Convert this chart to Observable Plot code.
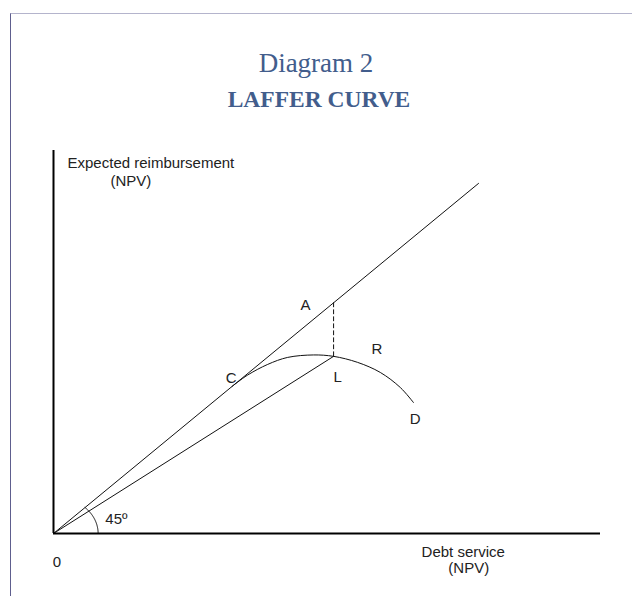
<!DOCTYPE html>
<html>
<head>
<meta charset="utf-8">
<script src="https://cdn.jsdelivr.net/npm/d3@7"></script>
<script src="https://cdn.jsdelivr.net/npm/@observablehq/plot@0.6"></script>
<style>
  html, body { margin: 0; padding: 0; background: #fff; }
  #page { position: relative; width: 632px; height: 596px; overflow: hidden; background: #fff; }
  #frame { position: absolute; left: 10px; top: 13px; width: 640px; height: 600px;
           border-top: 1.5px solid #b4b4cc; border-left: 1px solid #5e5e8e; }
  #chart { position: absolute; left: 0; top: 0; }
  .title { position: absolute; left: 0; width: 632px; text-align: center; color: #425d8c;
           font-family: "Liberation Serif", "DejaVu Serif", serif; line-height: 1; white-space: nowrap; }
  #t1 { top: 50px; font-size: 27px; }
  #t2 { top: 88px; font-size: 23.5px; font-weight: bold; left: 3px; }
</style>
</head>
<body>
<div id="page">
  <div id="frame"></div>
  <div id="chart"></div>
  <div class="title" id="t1">Diagram 2</div>
  <div class="title" id="t2">LAFFER CURVE</div>
</div>
<script>
// Axis extents (data units)
const xMax = 12.87;
const yMax = 10.94;

// 45-degree line
const line45 = [{x: 0, y: 0}, {x: 10, y: 10}];

// Point A (on 45° line) and L (on Laffer curve) share the same debt service
const pointA = {x: 6.59, y: 6.59};
const pointL = {x: 6.59, y: 5.06};

// Ray from origin to L
const rayOL = [{x: 0, y: 0}, pointL];

// Laffer curve C -> L -> D
const curveX = [4.20, 4.56, 5.04, 5.51, 6.12, 6.59, 7.15, 7.69, 8.16, 8.47];
const curveY = [4.20, 4.52, 4.83, 5.03, 5.10, 5.06, 4.89, 4.60, 4.17, 3.74];

// 45° angle arc
const arcRadius = 1.05;
const arcDegrees = 45;

// Text labels
const labelText = ["Expected reimbursement", "(NPV)", "Debt service", "(NPV)", "0", "45º", "A", "C", "L", "R", "D"];
const labelX    = [0.33, 1.34, 8.66, 9.29, -0.02, 1.22, 5.81, 4.05, 6.59, 7.48, 8.38];
const labelY    = [10.59, 10.05, -0.53, -1.0, -0.81, 0.42, 6.53, 4.45, 4.47, 5.27, 3.27];

const curve = curveX.map((x, i) => ({x, y: curveY[i]}));
const arc = d3.range(0, arcDegrees + 0.5, 1).map(d => ({
  x: arcRadius * Math.cos(d * Math.PI / 180),
  y: arcRadius * Math.sin(d * Math.PI / 180)
}));
const labels = labelText.map((t, i) => ({t, x: labelX[i], y: labelY[i]}));

const chart = Plot.plot({
  width: 632,
  height: 596,
  marginLeft: 53,
  marginRight: 32,
  marginTop: 150,
  marginBottom: 63,
  x: {domain: [0, xMax], axis: null},
  y: {domain: [0, yMax], axis: null},
  style: {background: "transparent", fontFamily: "'Liberation Sans', Arial, sans-serif"},
  marks: [
    Plot.line(line45, {x: "x", y: "y", stroke: "#111", strokeWidth: 1}),
    Plot.line(rayOL, {x: "x", y: "y", stroke: "#111", strokeWidth: 1}),
    Plot.line([pointA, pointL], {x: "x", y: "y", stroke: "#111", strokeWidth: 1, strokeDasharray: "4,3"}),
    Plot.line(curve, {x: "x", y: "y", curve: "catmull-rom", stroke: "#111", strokeWidth: 1}),
    Plot.line(arc, {x: "x", y: "y", stroke: "#111", strokeWidth: 1}),
    Plot.ruleX([0], {y1: 0, y2: yMax, stroke: "#000", strokeWidth: 2}),
    Plot.ruleY([0], {x1: 0, x2: xMax, stroke: "#000", strokeWidth: 2}),
    Plot.text(labels, {x: "x", y: "y", text: "t", textAnchor: "start", lineAnchor: "middle",
      fontSize: 15, fill: "#222"})
  ]
});
document.getElementById("chart").appendChild(chart);
</script>
</body>
</html>
